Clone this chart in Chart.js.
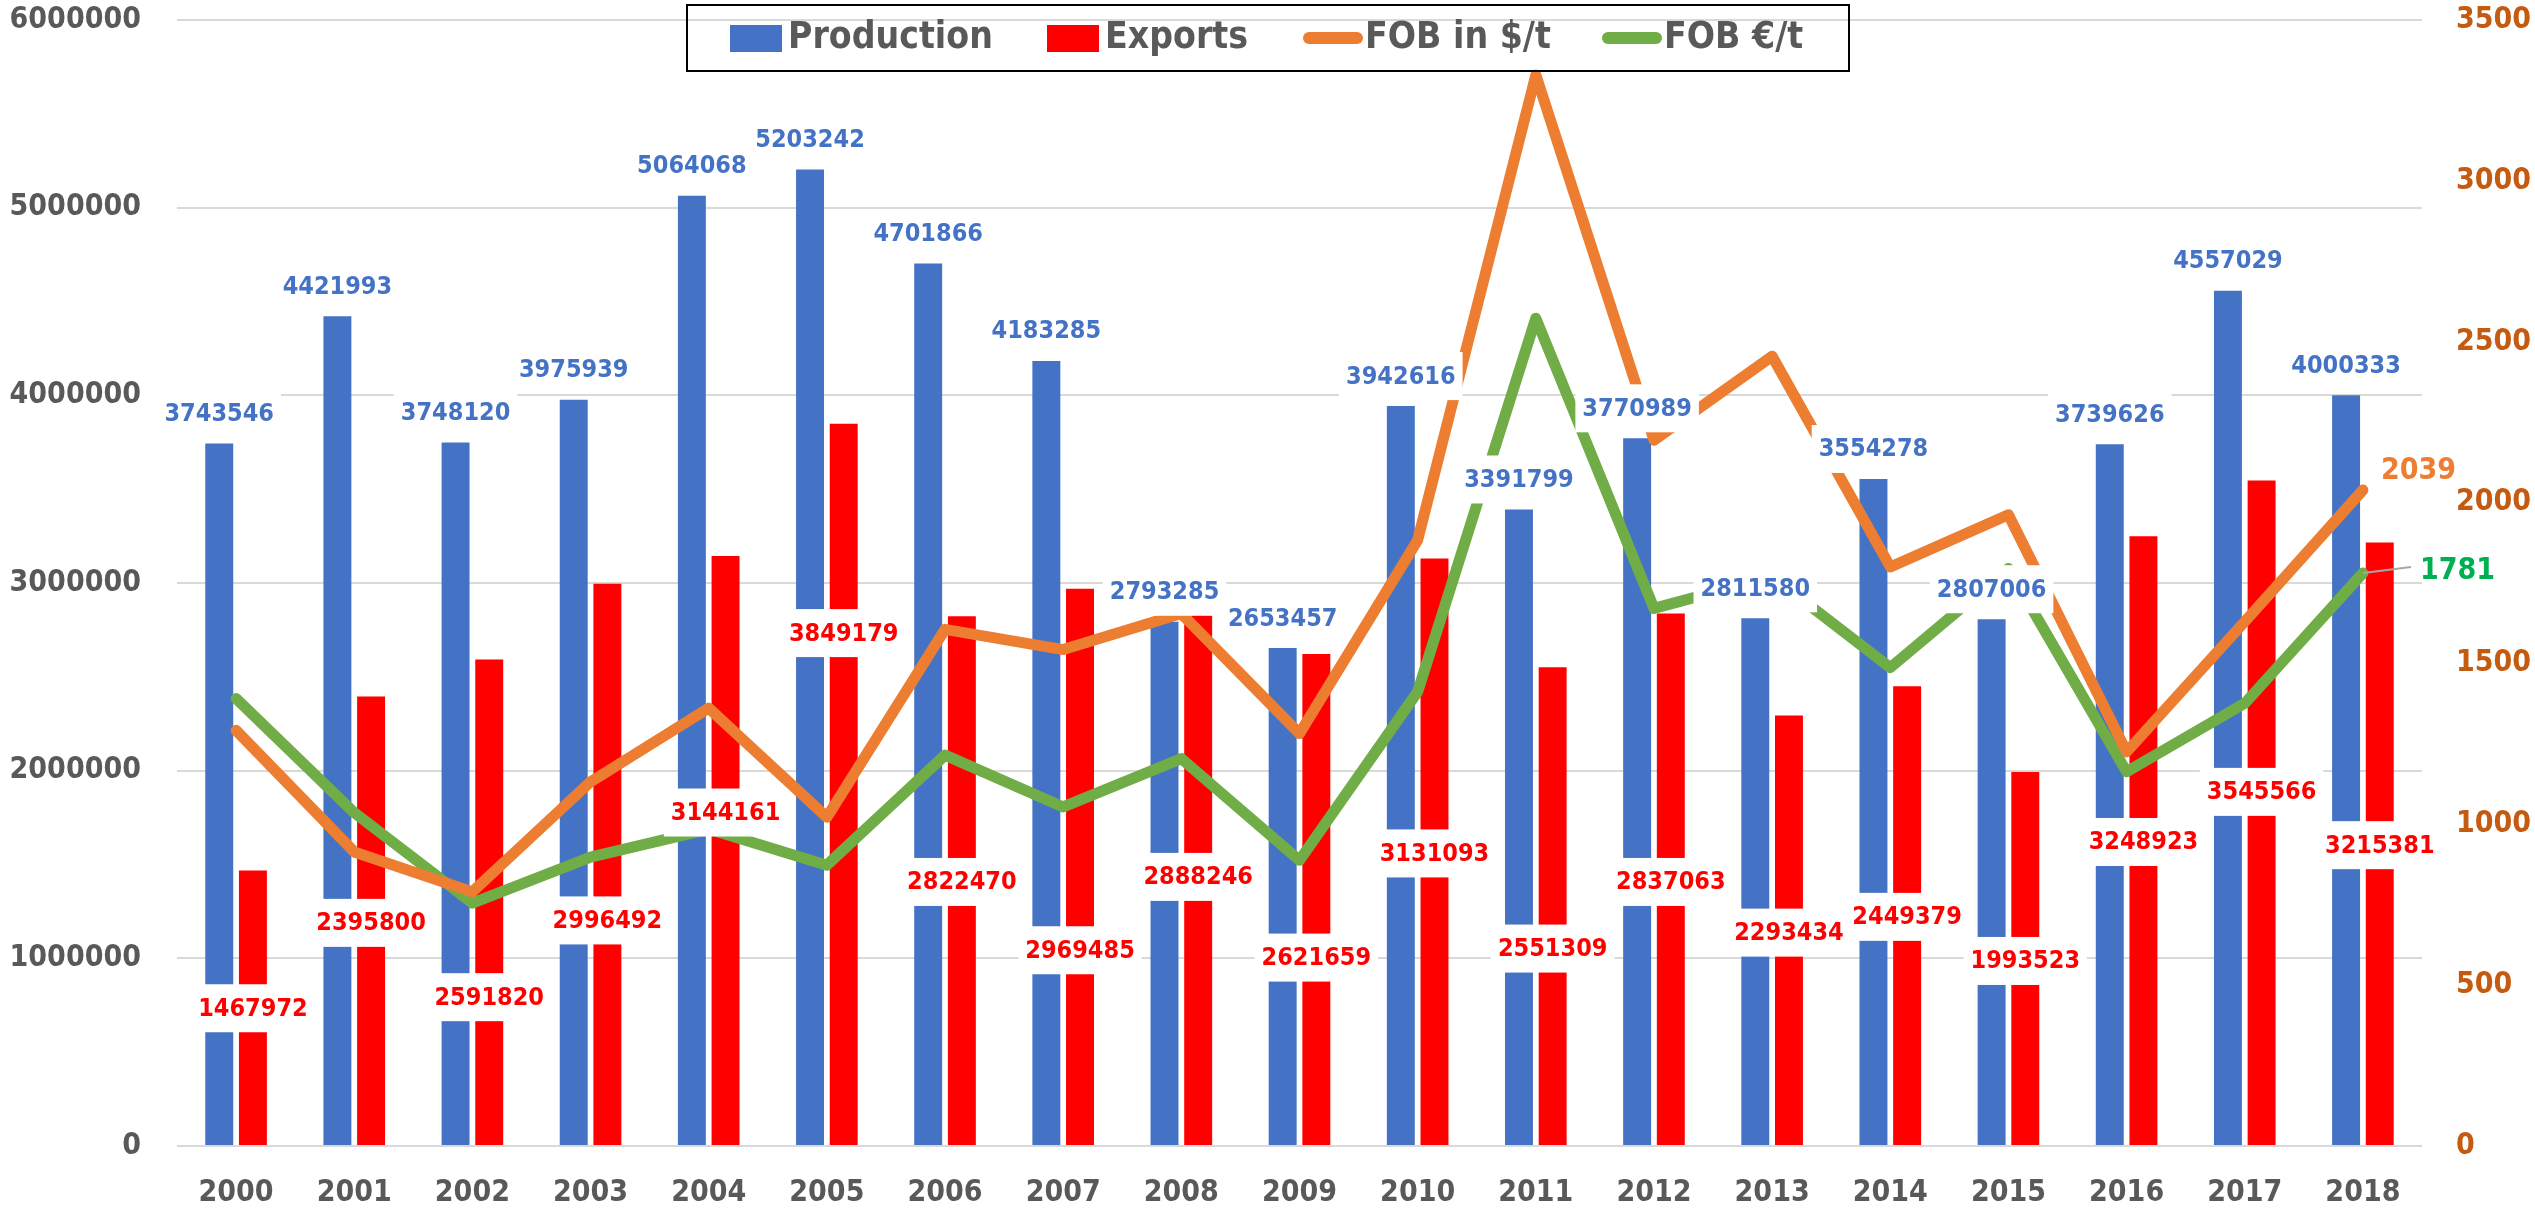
<!DOCTYPE html>
<html>
<head>
<meta charset="utf-8">
<script src="https://cdn.jsdelivr.net/npm/chart.js@4/dist/chart.umd.min.js"></script>
<style>
  html, body { margin: 0; padding: 0; background: #fff; }
  canvas { display: block; }
</style>
</head>
<body>
<canvas id="fobChart" width="2535" height="1210"></canvas>
<script>
// data
const years = ['2000','2001','2002','2003','2004','2005','2006','2007','2008','2009',
               '2010','2011','2012','2013','2014','2015','2016','2017','2018'];
const production = [3743546, 4421993, 3748120, 3975939, 5064068, 5203242, 4701866, 4183285, 2793285, 2653457,
                     3942616, 3391799, 3770989, 2811580, 3554278, 2807006, 3739626, 4557029, 4000333];
const exportsT = [1467972, 2395800, 2591820, 2996492, 3144161, 3849179, 2822470, 2969485, 2888246, 2621659,
                  3131093, 2551309, 2837063, 2293434, 2449379, 1993523, 3248923, 3545566, 3215381];
const fobUsd = [1292, 914, 790, 1132, 1361, 1022, 1606, 1543, 1655, 1282,
                1883, 3329, 2194, 2455, 1800, 1962, 1225, 1630, 2039];
const fobEur = [1391, 1036, 755, 898, 985, 873, 1215, 1054, 1204, 888,
                1412, 2573, 1671, 1770, 1487, 1795, 1163, 1376, 1781];
const leftTicks = [0, 1000000, 2000000, 3000000, 4000000, 5000000, 6000000];
const rightTicks = [0, 500, 1000, 1500, 2000, 2500, 3000, 3500];

// where the export labels were dropped (value on the left axis)
const exportLabelAt = [734000, 1189000, 793000, 1202000, 1777000, 2733000, 1407000, 1043000, 1434000, 1004000,
                       1559000, 1052000, 1407000, 1137000, 1221000, 986000, 1620000, 1887000, 1603000];

const FONT = "'DejaVu Sans Condensed', 'DejaVu Sans', sans-serif";
const GREY = '#595959';

const labelPlugin = {
    id: 'labels',
    afterDatasetsDraw(chart) {
        const ctx = chart.ctx;
        const yScale = chart.scales.y;
        ctx.save();
        ctx.font = 'bold 25px ' + FONT;
        ctx.textAlign = 'center';
        ctx.textBaseline = 'middle';
        function boxed(text, cx, cy, color) {
            var w = ctx.measureText(text).width + 14;
            ctx.fillStyle = '#ffffff';
            ctx.fillRect(cx - w / 2, cy - 24, w, 48);
            ctx.fillStyle = color;
            ctx.fillText(text, cx, cy + 1);
        }
        chart.getDatasetMeta(0).data.forEach(function(bar, i){
            boxed(String(production[i]), bar.x, bar.y - 30, '#4472C4');
        });
        chart.getDatasetMeta(1).data.forEach(function(bar, i){
            boxed(String(exportsT[i]), bar.x, yScale.getPixelForValue(exportLabelAt[i]), '#FF0000');
        });

        // end labels of the two lines
        const last = years.length - 1;
        const pUsd = chart.getDatasetMeta(2).data[last];
        const pEur = chart.getDatasetMeta(3).data[last];
        ctx.font = 'bold 30px ' + FONT;
        ctx.textAlign = 'left';
        ctx.fillStyle = '#ED7D31';
        ctx.fillText(String(fobUsd[last]), pUsd.x + 18, pUsd.y - 19);
        ctx.strokeStyle = '#A6A6A6';
        ctx.lineWidth = 2;
        ctx.beginPath();
        ctx.moveTo(pEur.x, pEur.y);
        ctx.lineTo(pEur.x + 48, pEur.y - 6);
        ctx.stroke();
        ctx.fillStyle = '#00B050';
        ctx.fillText(String(fobEur[last]), pEur.x + 57, pEur.y - 2);
        ctx.restore();
    }
};

const legendPlugin = {
    id: 'boxLegend',
    afterDraw(chart) {
        const ctx = chart.ctx;
        const starts = [730, 1047, 1303, 1602];
        ctx.save();
        ctx.strokeStyle = '#000000';
        ctx.lineWidth = 2;
        ctx.strokeRect(687, 5, 1162, 66);
        ctx.font = 'bold 37px ' + FONT;
        ctx.textBaseline = 'middle';
        ctx.textAlign = 'left';
        chart.data.datasets.forEach(function(ds, i){
            var x = starts[i];
            if (ds.type === 'line') {
                ctx.strokeStyle = ds.borderColor;
                ctx.lineWidth = 12;
                ctx.lineCap = 'round';
                ctx.beginPath();
                ctx.moveTo(x + 6, 38);
                ctx.lineTo(x + 54, 38);
                ctx.stroke();
                x += 62;
            } else {
                ctx.fillStyle = ds.backgroundColor;
                ctx.fillRect(x, 25, 52, 27);
                x += 58;
            }
            ctx.fillStyle = GREY;
            ctx.fillText(ds.label, x, 38);
        });
        ctx.restore();
    }
};

// vertical axes: fixed width, and no extra room asked for above the plot
function fixWidth(w) {
    return function(scale) {
        scale.width = w;
        scale.paddingTop = 0;
        scale.paddingBottom = 0;
    };
}

const config = {
    type: 'bar',
    data: {
        labels: years,
        datasets: [{
            label: 'Production',
            data: production,
            backgroundColor: '#4472C4',
            yAxisID: 'y',
            order: 2,
            categoryPercentage: 0.57,
            barPercentage: 0.83
        }, {
            label: 'Exports',
            data: exportsT,
            backgroundColor: '#FF0000',
            yAxisID: 'y',
            order: 2,
            categoryPercentage: 0.57,
            barPercentage: 0.83
        }, {
            type: 'line',
            label: 'FOB in $/t',
            data: fobUsd,
            borderColor: '#ED7D31',
            backgroundColor: '#ED7D31',
            borderWidth: 11,
            borderJoinStyle: 'round',
            borderCapStyle: 'round',
            pointRadius: 0,
            tension: 0,
            yAxisID: 'y1',
            order: 0
        }, {
            type: 'line',
            label: 'FOB €/t',
            data: fobEur,
            borderColor: '#70AD47',
            backgroundColor: '#70AD47',
            borderWidth: 11,
            borderJoinStyle: 'round',
            borderCapStyle: 'round',
            pointRadius: 0,
            tension: 0,
            yAxisID: 'y1',
            order: 1
        }]
    },
    options: {
        responsive: false,
        animation: false,
        devicePixelRatio: 1,
        layout: {
            padding: { top: 20, left: 0, right: 0, bottom: 0 }
        },
        plugins: {
            legend: { display: false },
            tooltip: { enabled: false }
        },
        scales: {
            x: {
                grid: { display: false, drawTicks: false },
                border: { display: false },
                ticks: {
                    color: GREY,
                    padding: 29,
                    font: { family: FONT, size: 30, weight: 'bold' }
                },
                afterFit: function(scale){ scale.height = 64; }
            },
            y: {
                position: 'left',
                min: 0,
                max: 6000000,
                afterBuildTicks: function(scale){
                    scale.ticks = leftTicks.map(function(v){ return { value: v }; });
                },
                grid: { color: '#D9D9D9', lineWidth: 2, drawTicks: false },
                border: { display: false },
                ticks: {
                    color: GREY,
                    padding: 36,
                    font: { family: FONT, size: 30, weight: 'bold' },
                    callback: function(v){ return String(v); }
                },
                afterFit: fixWidth(177)
            },
            y1: {
                position: 'right',
                min: 0,
                max: 3500,
                afterBuildTicks: function(scale){
                    scale.ticks = rightTicks.map(function(v){ return { value: v }; });
                },
                grid: { drawOnChartArea: false, drawTicks: false },
                border: { display: false },
                ticks: {
                    color: '#C55A11',
                    padding: 34,
                    font: { family: FONT, size: 30, weight: 'bold' },
                    callback: function(v){ return String(v); }
                },
                afterFit: fixWidth(113)
            }
        }
    },
    plugins: [labelPlugin, legendPlugin]
};

const fobChart = new Chart(document.getElementById('fobChart'), config);
</script>
</body>
</html>
